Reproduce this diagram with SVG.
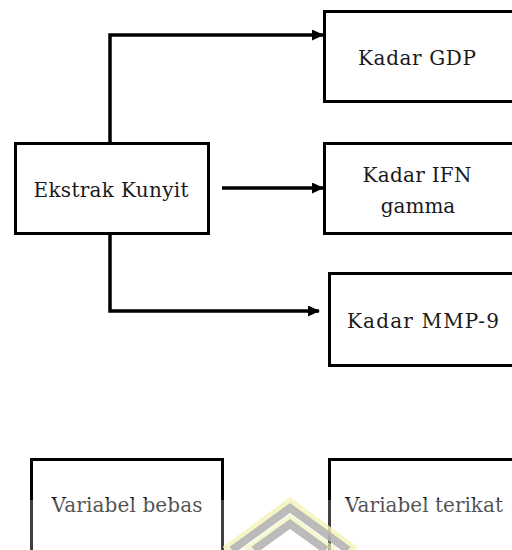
<svg xmlns="http://www.w3.org/2000/svg" width="512" height="550" viewBox="0 0 512 550">
<defs>
<style>
.box{fill:#fff;stroke:#000;stroke-width:3}
.t{font-family:"DejaVu Serif",serif;font-size:20px;fill:#1a1a1a;text-anchor:middle}
.c{fill:none;stroke:#000;stroke-width:3.5}
</style>
<marker id="ah" markerWidth="12" markerHeight="11" refX="11" refY="5.5" orient="auto" markerUnits="userSpaceOnUse">
<path d="M0,0 L12,5.5 L0,11 Z" fill="#000"/>
</marker>
</defs>
<rect width="512" height="550" fill="#fff"/>
<g id="ekstrak"><rect class="box" x="15.5" y="143.5" width="193" height="90"/><text class="t" x="111" y="197" textLength="155">Ekstrak Kunyit</text></g>
<g id="gdp"><rect class="box" x="324.5" y="11.5" width="200" height="90"/><text class="t" x="417" y="65" textLength="118">Kadar GDP</text></g>
<g id="ifn"><rect class="box" x="324.5" y="143.5" width="200" height="90"/><text class="t" x="417" y="182" textLength="109">Kadar IFN</text><text class="t" x="418" y="213">gamma</text></g>
<g id="mmp"><rect class="box" x="329.5" y="273.5" width="200" height="92"/><text class="t" x="423" y="328" textLength="152">Kadar MMP-9</text></g>
<g id="bebas"><rect class="box" x="31.5" y="459.5" width="191" height="100"/><text class="t" x="127" y="512" textLength="151">Variabel bebas</text></g>
<g id="terikat"><rect class="box" x="329.5" y="459.5" width="200" height="100"/><text class="t" x="424" y="512" textLength="158">Variabel terikat</text></g>
<g id="connectors">
<path class="c" d="M110,143 V35 H323" marker-end="url(#ah)"/>
<path class="c" d="M222,188 H323" marker-end="url(#ah)"/>
<path class="c" d="M110,233 V311 H319" marker-end="url(#ah)"/>
</g>
<g id="watermark">
<rect x="0" y="500" width="512" height="50" fill="#fff" opacity="0.25"/>
<path d="M225,550 L290,502 L355,550" fill="none" stroke="#f4f3b8" stroke-width="8" opacity="0.8"/>
<path d="M232,550 L290,508 L348,550" fill="none" stroke="#b4b4b4" stroke-width="8" opacity="0.9"/>
<path d="M246,550 L290,518 L334,550" fill="none" stroke="#f4f3b8" stroke-width="6" opacity="0.7"/>
<path d="M254,550 L290,524 L326,550" fill="none" stroke="#b4b4b4" stroke-width="8" opacity="0.9"/>
</g>
</svg>
